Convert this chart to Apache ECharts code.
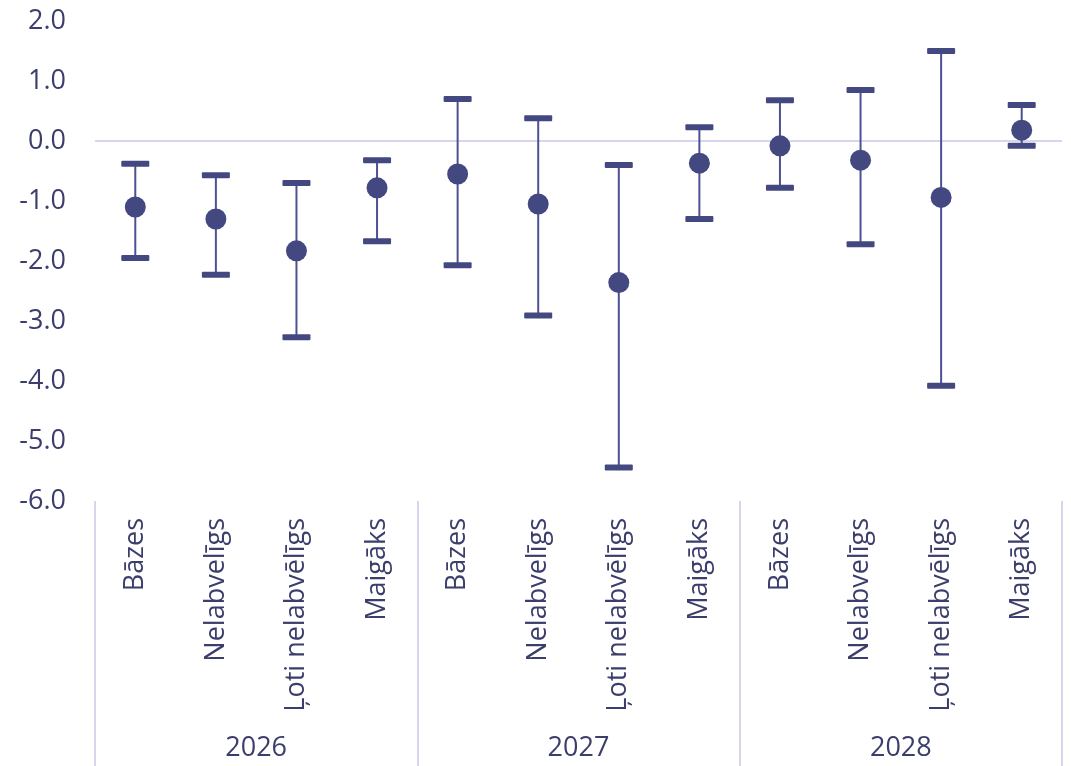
<!DOCTYPE html>
<html>
<head>
<meta charset="utf-8">
<script src="https://cdn.jsdelivr.net/npm/echarts@6/dist/echarts.min.js"></script>
<style>
  html, body { margin: 0; padding: 0; background: #ffffff; }
  #chart { width: 1071px; height: 766px; }
</style>
</head>
<body>
<div id="chart"></div>
<script>
var scenarios = ["Bāzes", "Nelabvelīgs", "Ļoti nelabvēlīgs", "Maigāks",
                 "Bāzes", "Nelabvelīgs", "Ļoti nelabvēlīgs", "Maigāks",
                 "Bāzes", "Nelabvelīgs", "Ļoti nelabvēlīgs", "Maigāks"];
var years = ["2026", "2027", "2028"];

// central estimate
var centerValues = [-1.1, -1.3, -1.83, -0.78, -0.55, -1.05, -2.36, -0.37, -0.08, -0.32, -0.94, 0.18];
// lower / upper bounds of the range
var lowValues = [-1.95, -2.23, -3.27, -1.67, -2.07, -2.91, -5.44, -1.3, -0.78, -1.72, -4.08, -0.08];
var highValues = [-0.38, -0.57, -0.7, -0.32, 0.7, 0.38, -0.4, 0.23, 0.68, 0.85, 1.5, 0.6];

var navy = "#444880";
var textColor = "#3b3e6c";
var lightLine = "#d6d7ec";
var fontSize = 27;

var chart = echarts.init(document.getElementById("chart"));

var rangeData = scenarios.map(function (s, i) {
    return [i, lowValues[i], highValues[i]];
});

function renderRange(params, api) {
    var idx = api.value(0);
    var lo = api.coord([idx, api.value(1)]);
    var hi = api.coord([idx, api.value(2)]);
    var capW = 28, capH = 6;
    return {
        type: "group",
        children: [
            {
                type: "line",
                shape: { x1: lo[0], y1: lo[1], x2: hi[0], y2: hi[1] },
                style: { stroke: "#4c5196", lineWidth: 2 }
            },
            {
                type: "rect",
                shape: { x: hi[0] - capW / 2, y: hi[1] - capH / 2, width: capW, height: capH, r: 1 },
                style: { fill: navy }
            },
            {
                type: "rect",
                shape: { x: lo[0] - capW / 2, y: lo[1] - capH / 2, width: capW, height: capH, r: 1 },
                style: { fill: navy }
            }
        ]
    };
}

var option = {
    animation: false,
    textStyle: { fontFamily: "Open Sans" },
    grid: { left: 95, right: 9, top: 21, bottom: 265 },
    xAxis: [
        {
            type: "category",
            data: scenarios,
            axisLine: { show: false },
            axisTick: { show: false },
            axisLabel: {
                rotate: 90,
                margin: 17,
                color: textColor,
                fontSize: fontSize,
                fontFamily: "Open Sans",
                interval: 0
            }
        },
        {
            type: "category",
            data: years,
            position: "bottom",
            axisLine: { show: false },
            axisTick: {
                show: true,
                length: 265,
                lineStyle: { color: lightLine, width: 2 }
            },
            axisLabel: {
                margin: 234,
                color: textColor,
                fontSize: fontSize,
                fontFamily: "Open Sans"
            }
        }
    ],
    yAxis: {
        type: "value",
        min: -6,
        max: 2,
        interval: 1,
        axisLine: { show: false },
        axisTick: { show: false },
        splitLine: { show: false },
        axisLabel: {
            margin: 29,
            color: textColor,
            fontSize: fontSize,
            fontFamily: "Open Sans",
            formatter: function (v) { return v.toFixed(1); }
        }
    },
    series: [
        {
            type: "custom",
            xAxisIndex: 0,
            renderItem: renderRange,
            data: rangeData,
            z: 3
        },
        {
            type: "scatter",
            xAxisIndex: 0,
            data: centerValues,
            symbol: "circle",
            symbolSize: 21,
            itemStyle: { color: navy, opacity: 1 },
            z: 4,
            markLine: {
                silent: true,
                symbol: "none",
                label: { show: false },
                lineStyle: { color: lightLine, width: 2, type: "solid" },
                data: [{ yAxis: 0 }],
                z: 1
            }
        }
    ]
};

chart.setOption(option);
</script>
</body>
</html>
